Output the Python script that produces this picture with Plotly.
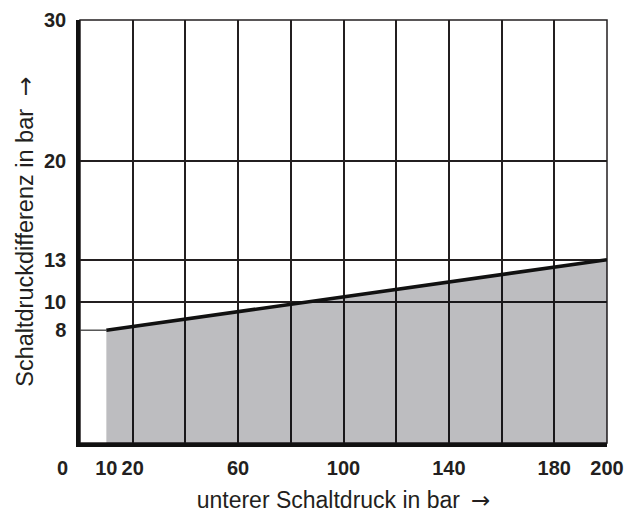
import plotly.graph_objects as go

# data
x_vals = [10, 200]
y_vals = [8, 13]
x_ticks = [0, 10, 20, 60, 100, 140, 180, 200]
x_tick_labels = ["", "10", "20", "60", "100", "140", "180", "200"]
x_grid = [20, 40, 60, 80, 100, 120, 140, 160, 180, 200]
y_ticks = [8, 10, 13, 20, 30]
y_tick_labels = ["8", "10", "13", "20", "30"]
y_grid = [10, 13, 20, 30]

tick_font = dict(family="Liberation Sans Narrow, Liberation Sans, Arial", size=20,
                 color="#231f20", weight="bold")
title_font = dict(family="Liberation Sans, Arial", size=23, color="#231f20")
grid_col = "#231f20"
arrow = '<span style="font-family:DejaVu Sans">\u2192</span>'

fig = go.Figure()
# short tick at the start value
fig.add_trace(go.Scatter(x=[0, x_vals[0]], y=[y_vals[0], y_vals[0]], mode="lines",
                         line=dict(color="#3a3a3a", width=1.3), hoverinfo="skip", showlegend=False))
fig.add_trace(go.Scatter(x=x_vals, y=y_vals, mode="lines", fill="tozeroy",
                         fillcolor="rgba(0,1,13,0.26)",
                         line=dict(color="#111111", width=3.5), showlegend=False))

fig.update_layout(
    width=629, height=513,
    margin=dict(l=80, r=22, t=20, b=70),
    plot_bgcolor="white", paper_bgcolor="white",
    xaxis=dict(range=[0, 200], tickmode="array", tickvals=x_ticks, ticktext=x_tick_labels,
               showgrid=False, zeroline=False, showline=True, linecolor="#111", linewidth=3.5,
               ticks="", ticklabelstandoff=4, tickfont=tick_font, automargin=False,
               minor=dict(tickmode="array", tickvals=x_grid, showgrid=True,
                          gridcolor=grid_col, gridwidth=1.5, ticks=""),
               title=dict(text="unterer Schaltdruck in bar\u2009 " + arrow, font=title_font, standoff=33)),
    yaxis=dict(range=[0, 30], tickmode="array", tickvals=y_ticks, ticktext=y_tick_labels,
               showgrid=False, zeroline=False, showline=True, linecolor="#111", linewidth=3.5,
               ticks="", ticklabelstandoff=6, tickfont=tick_font, automargin=False,
               minor=dict(tickmode="array", tickvals=y_grid, showgrid=True,
                          gridcolor=grid_col, gridwidth=1.5, ticks=""),
               title=dict(text="Schaltdruckdifferenz in bar\u00a0 " + arrow,
                          font=dict(title_font, size=23.5), standoff=5)),
    shapes=[dict(type="rect", xref="paper", yref="paper", x0=0, x1=1, y0=0, y1=1,
                 line=dict(color=grid_col, width=1.5), layer="below")],
    annotations=[dict(x=x_ticks[0], y=0, xref="x", yref="paper", text="0", showarrow=False,
                      xanchor="center", yanchor="middle",
                      xshift=-18, yshift=-25, font=tick_font)],
)

fig.write_html("out.html", config={"displayModeBar": False},
               post_script="document.body.style.margin='0';document.body.style.overflow='hidden';")
